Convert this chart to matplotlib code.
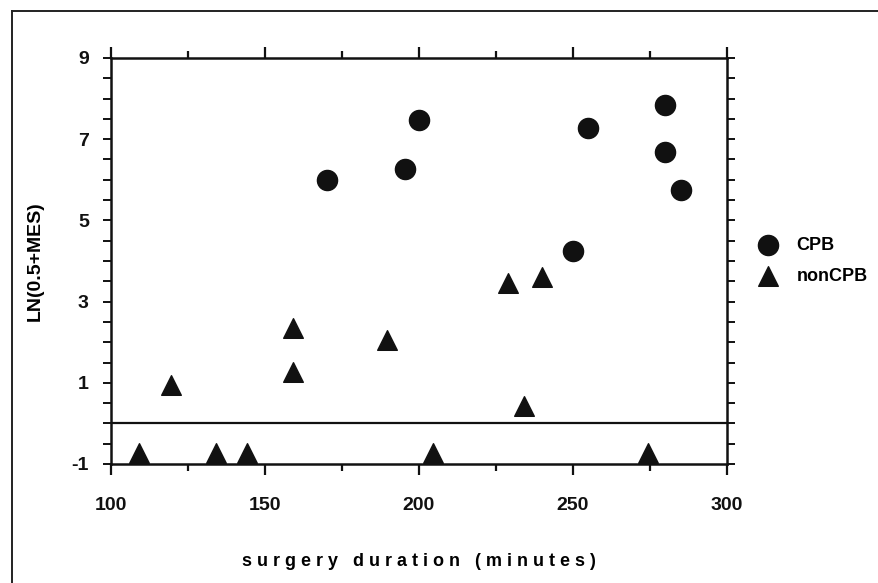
import numpy as np
import matplotlib.pyplot as plt
from matplotlib.lines import Line2D
from matplotlib.ticker import MultipleLocator

plt.rcParams["font.family"] = ["Liberation Sans", "DejaVu Sans"]
plt.rcParams["font.weight"] = "bold"
plt.rcParams["axes.unicode_minus"] = False

# CPB group (circles)
cpb_minutes = [170, 195.5, 200, 250, 255, 280, 280, 285]
cpb_ln_mes = [6.0, 6.27, 7.47, 4.25, 7.27, 7.84, 6.68, 5.75]

# nonCPB group (triangles)
noncpb_minutes = [109, 119.5, 134, 144, 159, 159, 189.5, 204.5, 229, 234, 240, 274.5]
noncpb_ln_mes = [-0.73, 0.95, -0.73, -0.73, 2.35, 1.26, 2.05, -0.73, 3.47, 0.42, 3.6, -0.73]

x_ticks = [100, 150, 200, 250, 300]
y_ticks = [-1, 1, 3, 5, 7, 9]

fig = plt.figure(figsize=(8.79, 5.83), dpi=100)
ax = fig.add_axes([111 / 879, 1 - 464 / 583, (727 - 111) / 879, (464 - 58) / 583])

# outer frame of the figure panel (left and top edges visible)
fig.add_artist(Line2D([12 / 879, 12 / 879], [0, 1 - 11 / 583], color="#222222", lw=1.4,
                      transform=fig.transFigure))
fig.add_artist(Line2D([12 / 879, 1], [1 - 11 / 583, 1 - 11 / 583], color="#222222", lw=1.4,
                      transform=fig.transFigure))

ax.scatter(cpb_minutes, cpb_ln_mes, marker="o", s=210, color="#111111", label="CPB", zorder=3)
ax.scatter(noncpb_minutes, noncpb_ln_mes, marker="^", s=200, color="#111111", label="nonCPB", zorder=3)
ax.axhline(0, color="#111111", lw=1.6, zorder=2)

ax.set_xlim(100, 300)
ax.set_ylim(-1, 9)
ax.set_xticks(x_ticks)
ax.set_yticks(y_ticks)
ax.xaxis.set_minor_locator(MultipleLocator(25))
ax.yaxis.set_minor_locator(MultipleLocator(0.5))

for side in ["left", "right", "top", "bottom"]:
    ax.spines[side].set_linewidth(1.8)
    ax.spines[side].set_color("#111111")

ax.tick_params(axis="x", which="both", direction="out", top=True, width=1.6, colors="#111111")
ax.tick_params(axis="x", which="major", length=8, pad=16, labelsize=14)
ax.tick_params(axis="x", which="minor", length=5)
ax.tick_params(axis="y", which="both", direction="out", right=True, width=1.4, length=6,
               colors="#111111")
ax.tick_params(axis="y", which="major", pad=10, labelsize=14)

for lbl in ax.get_xticklabels() + ax.get_yticklabels():
    lbl.set_fontweight("bold")

ax.set_xlabel("s u r g e r y   d u r a t i o n   ( m i n u t e s )", fontsize=13,
              fontweight="bold", labelpad=28)
ax.set_ylabel("LN(0.5+MES)", fontsize=14, fontweight="bold", labelpad=20)

ax.legend(loc="center left", bbox_to_anchor=(1.025, 0.5), frameon=False, fontsize=13,
          handletextpad=0.6, labelspacing=0.8, borderaxespad=0)

fig.savefig("out.png", dpi=100)
